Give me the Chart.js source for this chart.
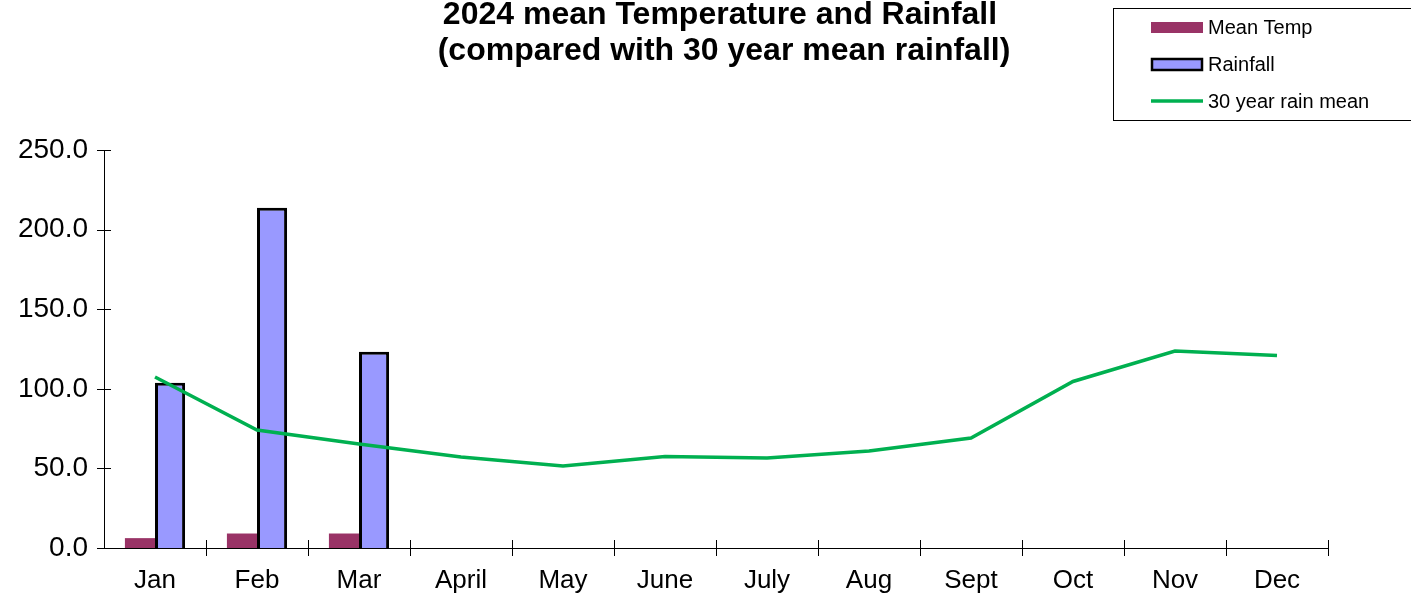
<!DOCTYPE html>
<html>
<head>
<meta charset="utf-8">
<script src="https://cdn.jsdelivr.net/npm/chart.js@4/dist/chart.umd.min.js"></script>
<style>
html,body{margin:0;padding:0;background:#fff;}
#wrap{width:1411px;height:600px;position:relative;}
</style>
</head>
<body>
<div id="wrap"><canvas id="c" width="1411" height="600"></canvas></div>
<script>
const months = ["Jan","Feb","Mar","April","May","June","July","Aug","Sept","Oct","Nov","Dec"];
const meanTemp = [6.2, 9.1, 9.1, null, null, null, null, null, null, null, null, null];
const rainfall = [103.8, 213.8, 123.3, null, null, null, null, null, null, null, null, null];
const rainMean30 = [107.4, 74.1, 65.3, 57.2, 51.5, 57.5, 56.5, 60.9, 69.1, 104.6, 123.7, 120.9];
const yTicks = [0, 50, 100, 150, 200, 250];
const titleLines = ["2024 mean Temperature and Rainfall", "(compared with 30 year mean rainfall)"];

const FONT = '"Liberation Sans", Arial, sans-serif';

const crossTicks = {
  id: 'crossTicks',
  afterDraw(chart) {
    const ctx = chart.ctx;
    const x = chart.scales.x, y = chart.scales.y;
    ctx.save();
    ctx.strokeStyle = '#000';
    ctx.lineWidth = 1;
    ctx.beginPath();
    yTicks.forEach(v => {
      const py = Math.round(y.getPixelForValue(v)) + 0.5;
      ctx.moveTo(x.left - 7, py);
      ctx.lineTo(x.left + 7, py);
    });
    const n = months.length;
    for (let i = 1; i <= n; i++) {
      const px = Math.round(x.left + i * (x.right - x.left) / n) + 0.5;
      ctx.moveTo(px, y.bottom - 8);
      ctx.lineTo(px, y.bottom + 8);
    }
    ctx.stroke();
    ctx.restore();
  }
};

const titleLegend = {
  id: 'titleLegend',
  afterDraw(chart) {
    const ctx = chart.ctx;
    ctx.save();
    ctx.fillStyle = '#000';
    ctx.font = 'bold 32px ' + FONT;
    ctx.textAlign = 'center';
    ctx.textBaseline = 'alphabetic';
    ctx.fillText(titleLines[0], 720, 24);
    ctx.fillText(titleLines[1], 724, 60);
    ctx.strokeStyle = '#000';
    ctx.lineWidth = 1;
    ctx.strokeRect(1113.5, 8.5, 320, 112);
    const ds = chart.data.datasets;
    const rows = [27, 64, 101];
    ctx.font = '20px ' + FONT;
    ctx.textAlign = 'left';
    ctx.textBaseline = 'middle';
    ds.forEach((d, i) => {
      const yy = rows[i];
      if (d.type === 'line') {
        ctx.strokeStyle = d.borderColor;
        ctx.lineWidth = 3.5;
        ctx.beginPath();
        ctx.moveTo(1151, yy);
        ctx.lineTo(1203, yy);
        ctx.stroke();
      } else {
        ctx.fillStyle = d.backgroundColor;
        ctx.fillRect(1151, yy - 5, 52, 11);
        if (d.borderWidth) {
          ctx.strokeStyle = d.borderColor;
          ctx.lineWidth = 2.5;
          ctx.strokeRect(1152, yy - 5, 50, 11);
        }
      }
      ctx.fillStyle = '#000';
      ctx.fillText(d.label, 1208, yy + 1);
    });
    ctx.restore();
  }
};

new Chart(document.getElementById('c'), {
  data: {
    labels: months,
    datasets: [
      { type: 'bar', label: 'Mean Temp', data: meanTemp, backgroundColor: '#993366', borderWidth: 0, order: 1 },
      { type: 'bar', label: 'Rainfall', data: rainfall, backgroundColor: '#9999FF', borderColor: '#000000', borderWidth: 3, order: 1 },
      { type: 'line', label: '30 year rain mean', data: rainMean30, borderColor: '#00B050', borderWidth: 3.5, pointRadius: 0, tension: 0, fill: false, order: 0 }
    ]
  },
  options: {
    responsive: false,
    animation: false,
    devicePixelRatio: 1,
    layout: { padding: { left: 0, right: 83, top: 150, bottom: 0 } },
    plugins: { legend: { display: false }, title: { display: false }, tooltip: { enabled: false } },
    datasets: { bar: { categoryPercentage: 0.59, barPercentage: 1.0 } },
    scales: {
      x: {
        type: 'category',
        offset: true,
        grid: { display: false, drawTicks: false },
        border: { display: true, color: '#000', width: 1 },
        ticks: { color: '#000', font: { family: FONT, size: 26 }, padding: 17, maxRotation: 0, autoSkip: false },
        afterFit(s) { s.height = 52; }
      },
      y: {
        min: 0, max: 250,
        afterBuildTicks(s) { s.ticks = yTicks.map(v => ({ value: v })); },
        grid: { display: false, drawTicks: false },
        border: { display: true, color: '#000', width: 1 },
        ticks: { color: '#000', font: { family: FONT, size: 28 }, padding: 16, callback: v => Number(v).toFixed(1) },
        afterFit(s) { s.width = 104; }
      }
    }
  },
  plugins: [crossTicks, titleLegend]
});
</script>
</body>
</html>
